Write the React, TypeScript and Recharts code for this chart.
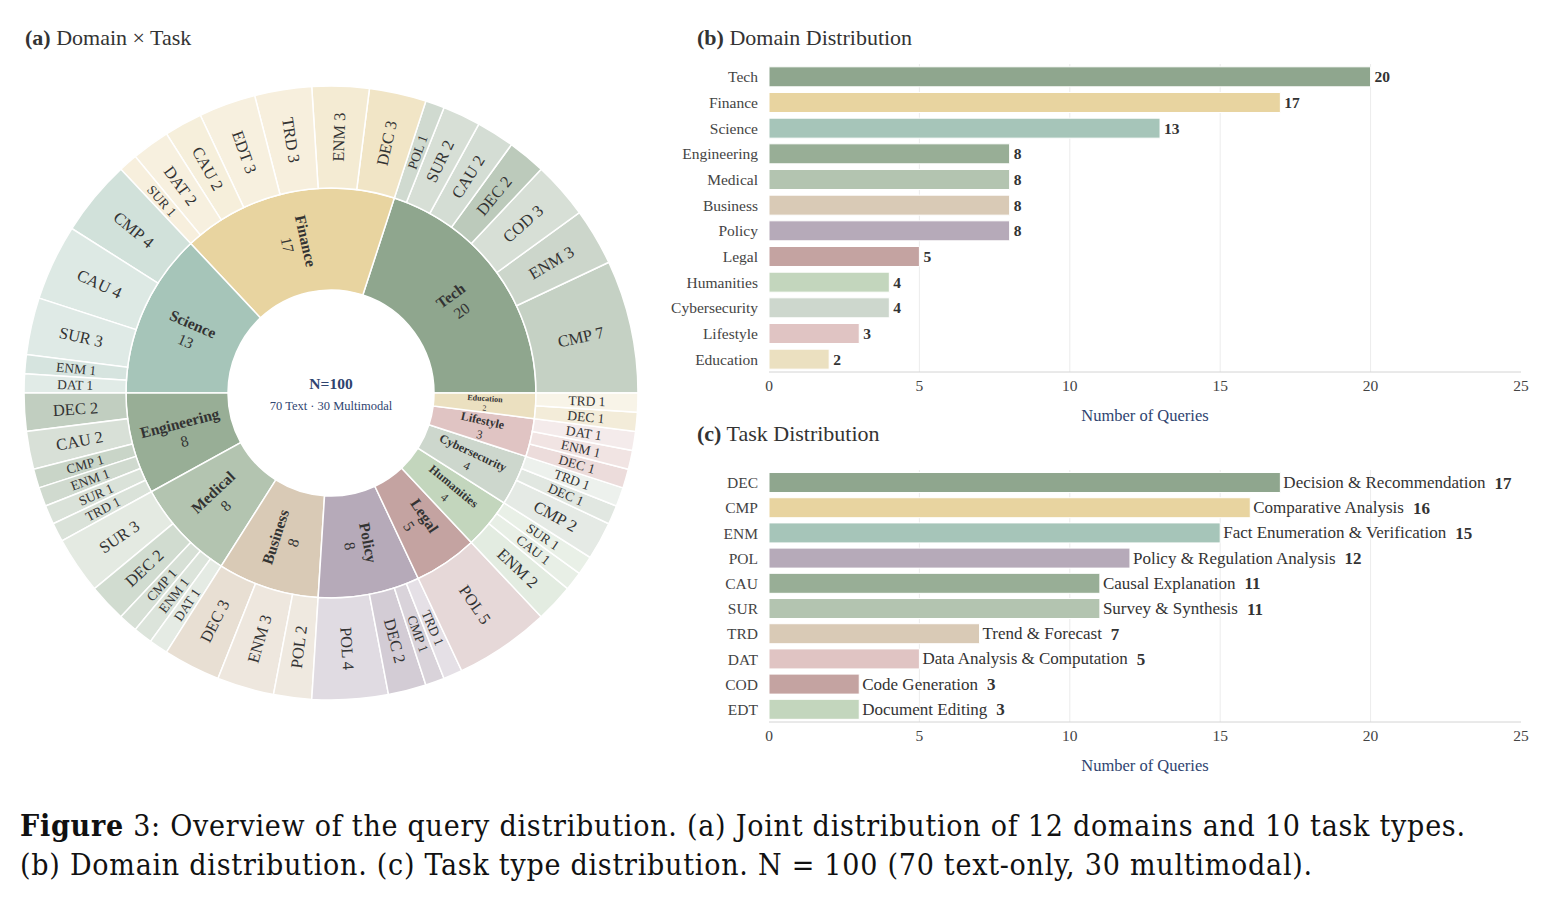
import { PieChart, Pie, Cell, BarChart, Bar, XAxis, YAxis, CartesianGrid, LabelList } from "recharts";

// ── Estilo ────────────────────────────────────────────────────────────────────
const FONT = "'Liberation Serif', 'Times New Roman', serif";
const NAVY = "#2f4470";
const INK = "#333333";
const RAD = Math.PI / 180;

// ── Dados ─────────────────────────────────────────────────────────────────────
const domains = ["Tech", "Finance", "Science", "Engineering", "Medical", "Business", "Policy", "Legal", "Humanities", "Cybersecurity", "Lifestyle", "Education"];
const domainCounts = [20, 17, 13, 8, 8, 8, 8, 5, 4, 4, 3, 2];
const domainColors = ["#8fa68e", "#e8d4a0", "#a6c5b9", "#98ae96", "#b3c4b0", "#d9cab6", "#b6aab9", "#c4a3a1", "#c3d6bd", "#cdd7cd", "#e0c4c3", "#ebe0c0"];

const taskCodes = ["DEC", "CMP", "ENM", "POL", "CAU", "SUR", "TRD", "DAT", "COD", "EDT"];
const taskNames = ["Decision & Recommendation", "Comparative Analysis", "Fact Enumeration & Verification", "Policy & Regulation Analysis", "Causal Explanation", "Survey & Synthesis", "Trend & Forecast", "Data Analysis & Computation", "Code Generation", "Document Editing"];
const taskCounts = [17, 16, 15, 12, 11, 11, 7, 5, 3, 3];
const taskColors = ["#8fa68e", "#e8d4a0", "#a6c5b9", "#b6aab9", "#98ae96", "#b3c4b0", "#d9cab6", "#e0c4c3", "#c4a3a1", "#c3d6bd"];

const xTicks = [0, 5, 10, 15, 20, 25];
const gridValues = [5, 10, 15, 20];

// domain × task (sentido anti-horário, a partir das 3h)
const techTasks: [string, number][] = [["CMP", 7], ["ENM", 3], ["COD", 3], ["DEC", 2], ["CAU", 2], ["SUR", 2], ["POL", 1]];
const financeTasks: [string, number][] = [["DEC", 3], ["ENM", 3], ["TRD", 3], ["EDT", 3], ["CAU", 2], ["DAT", 2], ["SUR", 1]];
const scienceTasks: [string, number][] = [["CMP", 4], ["CAU", 4], ["SUR", 3], ["ENM", 1], ["DAT", 1]];
const engineeringTasks: [string, number][] = [["DEC", 2], ["CAU", 2], ["CMP", 1], ["ENM", 1], ["SUR", 1], ["TRD", 1]];
const medicalTasks: [string, number][] = [["SUR", 3], ["DEC", 2], ["CMP", 1], ["ENM", 1], ["DAT", 1]];
const businessTasks: [string, number][] = [["DEC", 3], ["ENM", 3], ["POL", 2]];
const policyTasks: [string, number][] = [["POL", 4], ["DEC", 2], ["CMP", 1], ["TRD", 1]];
const legalTasks: [string, number][] = [["POL", 5]];
const humanitiesTasks: [string, number][] = [["ENM", 2], ["CAU", 1], ["SUR", 1]];
const cyberTasks: [string, number][] = [["CMP", 2], ["DEC", 1], ["TRD", 1]];
const lifestyleTasks: [string, number][] = [["DEC", 1], ["ENM", 1], ["DAT", 1]];
const educationTasks: [string, number][] = [["DEC", 1], ["TRD", 1]];
const jointTasks = [techTasks, financeTasks, scienceTasks, engineeringTasks, medicalTasks, businessTasks, policyTasks, legalTasks, humanitiesTasks, cyberTasks, lifestyleTasks, educationTasks];

// intensidade do anel externo por tarefa
const taskShade: Record<string, number> = { DEC: 0.6, CMP: 0.52, ENM: 0.46, POL: 0.42, CAU: 0.38, SUR: 0.36, TRD: 0.36, DAT: 0.34, COD: 0.36, EDT: 0.34 };

const innerData = domains.map((name, i) => ({ name, value: domainCounts[i], color: domainColors[i] }));
const outerData = jointTasks.flatMap((list, d) =>
  list.map(([task, value]) => ({ name: `${task} ${value}`, task, value, color: domainColors[d] }))
);
const domainData = domains.map((name, i) => ({ name, value: domainCounts[i] }));
const taskData = taskCodes.map((code, i) => ({ code, name: taskNames[i], value: taskCounts[i] }));

// ── Labels ────────────────────────────────────────────────────────────────────
function radial(p: any) {
  const r = (p.innerRadius + p.outerRadius) / 2;
  const x = p.cx + r * Math.cos(-p.midAngle * RAD);
  const y = p.cy + r * Math.sin(-p.midAngle * RAD);
  const a = ((p.midAngle % 360) + 360) % 360;
  const rot = a > 90 && a < 270 ? 180 - a : -a;
  return `translate(${x},${y}) rotate(${rot})`;
}

const innerLabel = (p: any) => {
  const d = innerData[p.index];
  const fs = d.value <= 2 ? 8 : d.value <= 4 ? 12 : 15.5;
  return (
    <text transform={radial(p)} textAnchor="middle" fontFamily={FONT} fill={INK}>
      <tspan x={0} dy={-fs * 0.2} fontWeight="bold" fontSize={fs}>{d.name}</tspan>
      <tspan x={0} dy={fs * 1.2} fontSize={fs}>{d.value}</tspan>
    </text>
  );
};

const outerLabel = (p: any) => {
  const d = outerData[p.index];
  const fs = d.value === 1 ? 13.5 : 16.5;
  return (
    <text transform={radial(p)} textAnchor="middle" dominantBaseline="central" fontFamily={FONT} fontSize={fs} fill={INK}>
      {d.name}
    </text>
  );
};

const TaskLabel = (p: any) => {
  const { x, y, width, height, index } = p;
  return (
    <text x={x + width + 3} y={y + height / 2} dominantBaseline="central" fontFamily={FONT} fontSize={17} fill={INK}>
      {taskNames[index]}
      <tspan fontWeight="bold" dx={9}>{taskCounts[index]}</tspan>
    </text>
  );
};

const tickStyle = { fontSize: 15.5, fill: "#444", fontFamily: FONT };
const axisLabel = { value: "Number of Queries", position: "insideBottom" as const, offset: 3, fill: NAVY, fontSize: 16.5, fontFamily: FONT };

function Title({ tag, text, x, y }: { tag: string; text: string; x: number; y: number }) {
  return (
    <div style={{ position: "absolute", left: x, top: y, fontSize: 22, lineHeight: "22px", color: INK, whiteSpace: "nowrap" }}>
      <b>{tag}</b> {text}
    </div>
  );
}

// ── Main ──────────────────────────────────────────────────────────────────────
export default function App() {
  return (
    <div style={{ position: "absolute", left: 0, top: 0, width: 1557, height: 898, background: "#fff", fontFamily: FONT }}>

      {/* ── (a) sunburst ── */}
      <Title tag="(a)" text="Domain × Task" x={25} y={27} />
      <div style={{ position: "absolute", left: 0, top: 0 }}>
        <PieChart width={662} height={720} margin={{ top: 0, right: 0, bottom: 0, left: 0 }}>
          <Pie data={innerData} dataKey="value" cx={331} cy={393} innerRadius={103} outerRadius={205}
            startAngle={0} endAngle={360} stroke="#fff" strokeWidth={1.5}
            label={innerLabel} labelLine={false} isAnimationActive={false}>
            {innerData.map((d, i) => <Cell key={i} fill={d.color} />)}
          </Pie>
          <Pie data={outerData} dataKey="value" cx={331} cy={393} innerRadius={205} outerRadius={307}
            startAngle={0} endAngle={360} stroke="#fff" strokeWidth={1.5}
            label={outerLabel} labelLine={false} isAnimationActive={false}>
            {outerData.map((d, i) => <Cell key={i} fill={d.color} fillOpacity={taskShade[d.task]} />)}
          </Pie>
          <text x={331} y={383} textAnchor="middle" dominantBaseline="central" fontFamily={FONT} fontSize={15.5} fontWeight="bold" fill={NAVY}>N=100</text>
          <text x={331} y={406} textAnchor="middle" dominantBaseline="central" fontFamily={FONT} fontSize={12.5} fill={NAVY}>70 Text · 30 Multimodal</text>
        </PieChart>
      </div>

      {/* ── (b) domínios ── */}
      <Title tag="(b)" text="Domain Distribution" x={697} y={27} />
      <div style={{ position: "absolute", left: 640, top: 55 }}>
        <BarChart layout="vertical" width={900} height={369} data={domainData}
          margin={{ top: 9, right: 19, bottom: 0, left: 0 }} barCategoryGap="11%">
          <CartesianGrid horizontal={false} stroke="#ececec" verticalValues={gridValues} />
          <XAxis type="number" domain={[0, 25]} ticks={xTicks} height={52}
            axisLine={{ stroke: "#d4d4d4" }} tickLine={false} tick={tickStyle} label={axisLabel} />
          <YAxis type="category" dataKey="name" width={129} axisLine={false} tickLine={false}
            tickMargin={5} tick={tickStyle} interval={0} />
          <Bar dataKey="value" stroke="#fff" strokeWidth={1} isAnimationActive={false}>
            {domainData.map((_, i) => <Cell key={i} fill={domainColors[i]} />)}
            <LabelList dataKey="value" position="right" offset={4}
              style={{ fontWeight: "bold", fontSize: 15.5, fill: INK, fontFamily: FONT }} />
          </Bar>
        </BarChart>
      </div>

      {/* ── (c) tarefas ── */}
      <Title tag="(c)" text="Task Distribution" x={697} y={423} />
      <div style={{ position: "absolute", left: 640, top: 460 }}>
        <BarChart layout="vertical" width={900} height={314} data={taskData}
          margin={{ top: 10, right: 19, bottom: 0, left: 0 }} barCategoryGap="10%">
          <CartesianGrid horizontal={false} stroke="#ececec" verticalValues={gridValues} />
          <XAxis type="number" domain={[0, 25]} ticks={xTicks} height={52}
            axisLine={{ stroke: "#d4d4d4" }} tickLine={false} tick={tickStyle} label={axisLabel} />
          <YAxis type="category" dataKey="code" width={129} axisLine={false} tickLine={false}
            tickMargin={5} tick={tickStyle} interval={0} />
          <Bar dataKey="value" stroke="#fff" strokeWidth={1} isAnimationActive={false}>
            {taskData.map((_, i) => <Cell key={i} fill={taskColors[i]} />)}
            <LabelList dataKey="value" content={TaskLabel} />
          </Bar>
        </BarChart>
      </div>

      {/* ── legenda da figura ── */}
      <div style={{
        position: "absolute", left: 20, top: 806, fontFamily: "'DejaVu Serif Condensed', 'DejaVu Serif', serif",
        fontStretch: "condensed", fontSize: 30, letterSpacing: "0.75px", lineHeight: "39px", color: "#111", whiteSpace: "nowrap",
      }}>
        <div><b>Figure</b> 3: Overview of the query distribution. (a) Joint distribution of 12 domains and 10 task types.</div>
        <div>(b) Domain distribution. (c) Task type distribution. N = 100 (70 text-only, 30 multimodal).</div>
      </div>
    </div>
  );
}
